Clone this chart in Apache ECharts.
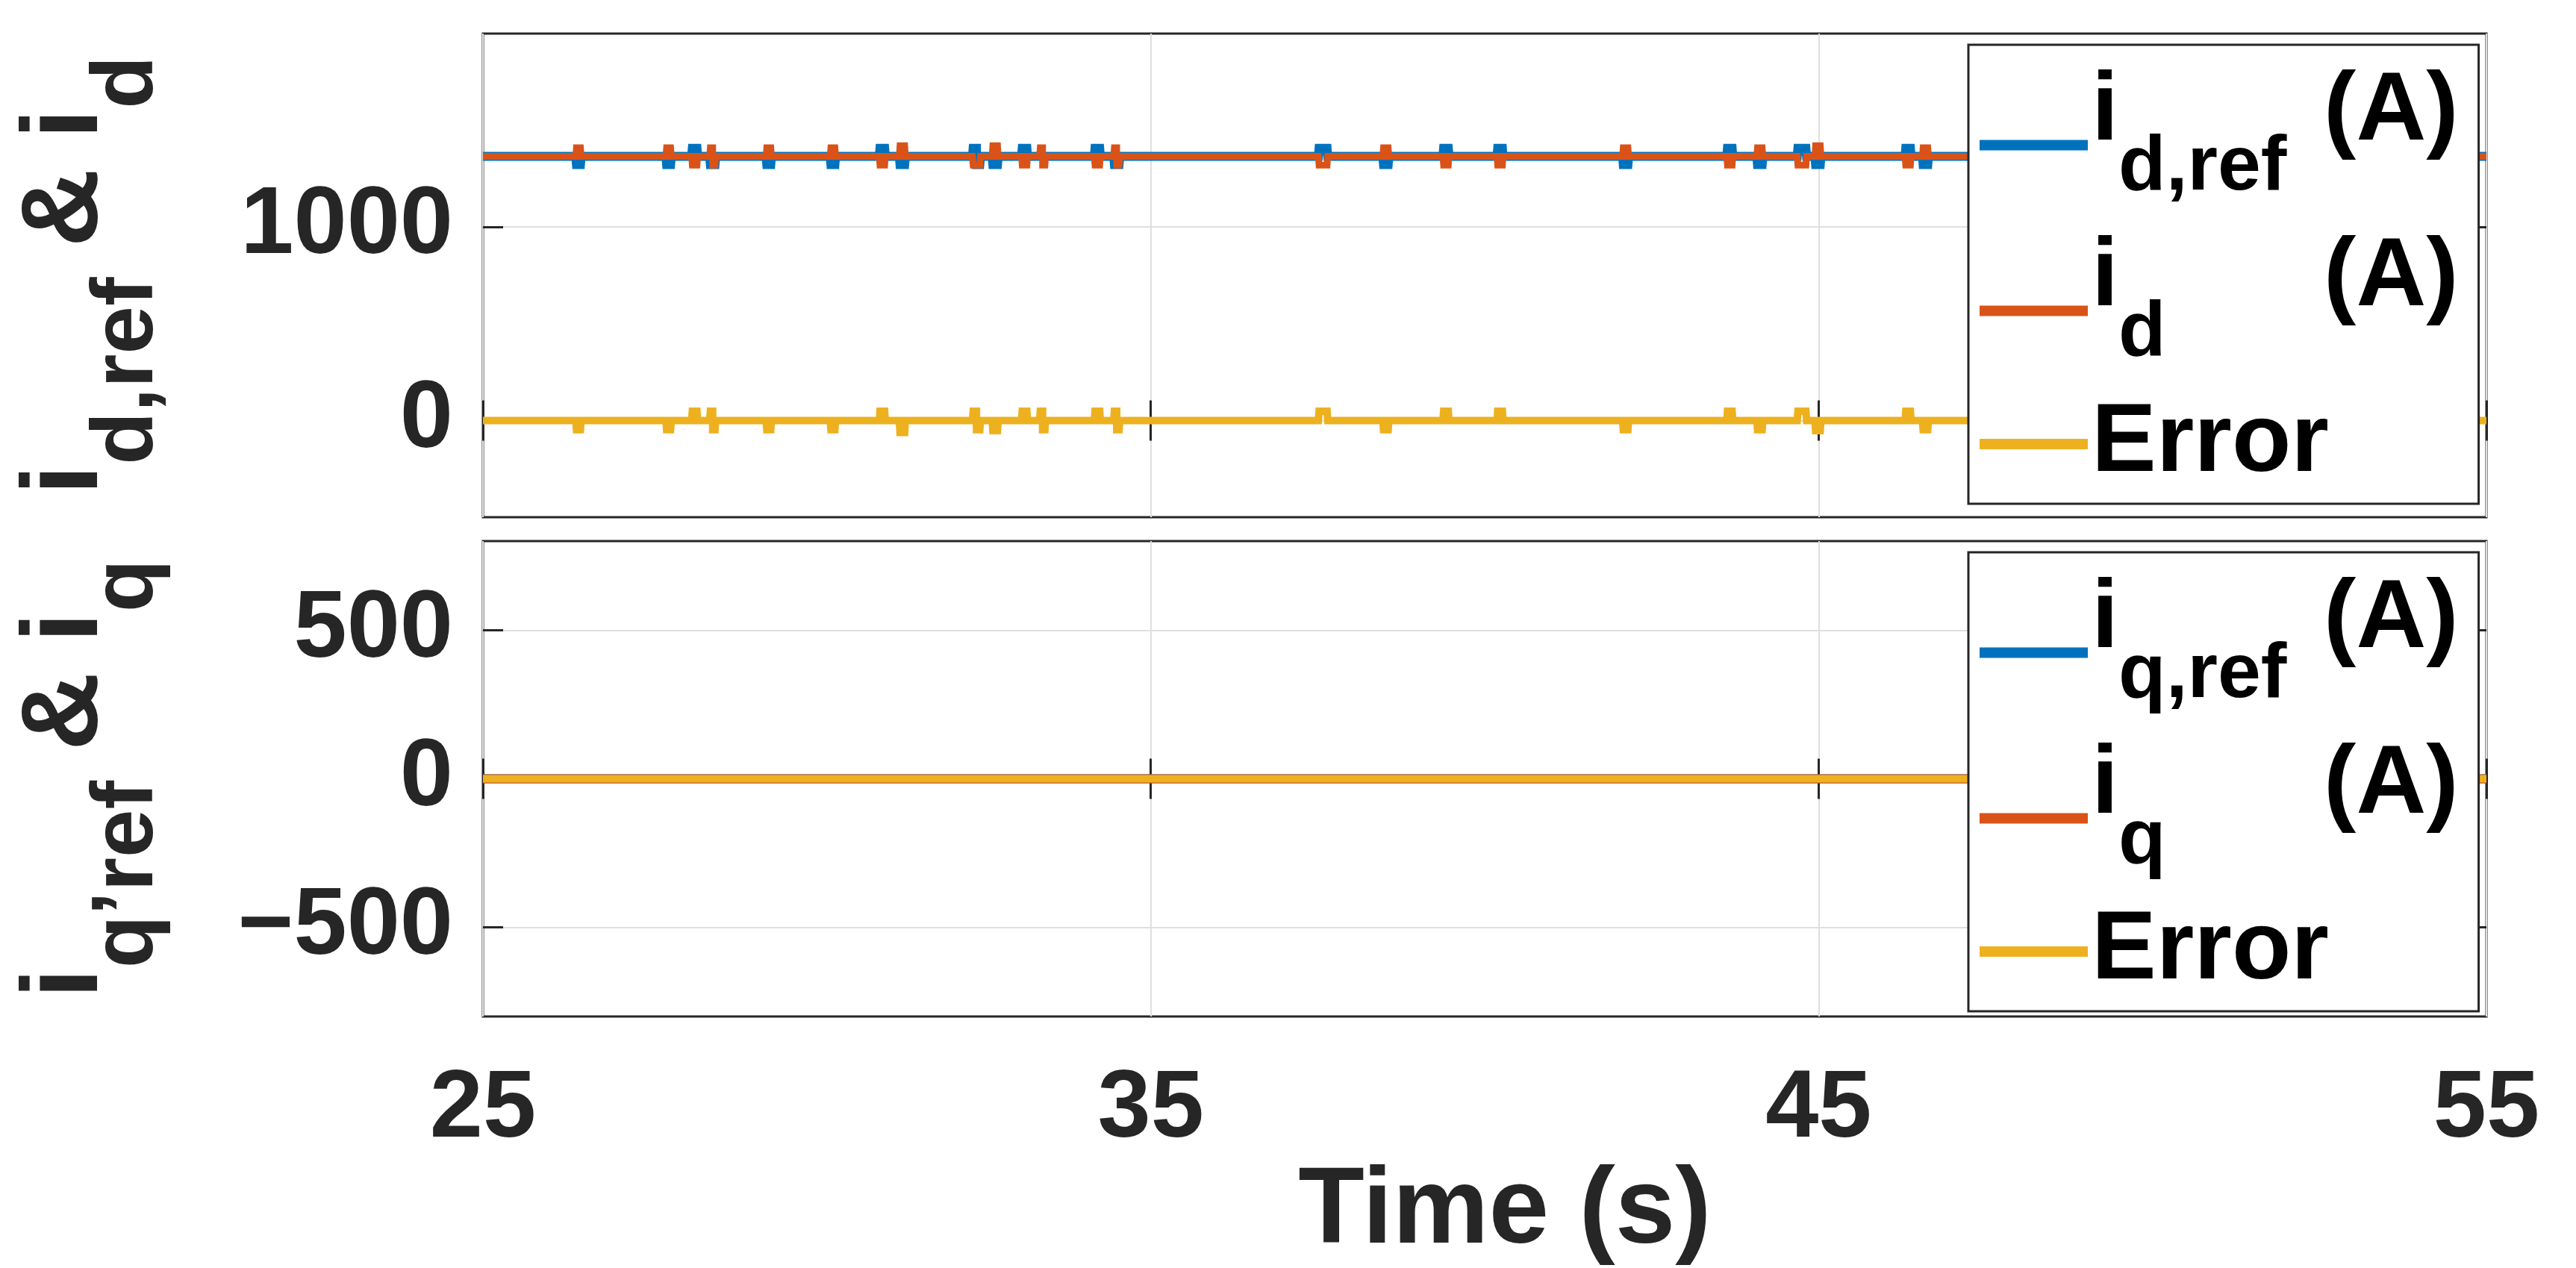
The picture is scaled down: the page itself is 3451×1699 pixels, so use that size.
<!DOCTYPE html>
<html>
<head>
<meta charset="utf-8">
<script src="https://cdn.jsdelivr.net/npm/echarts@6/dist/echarts.min.js"></script>
<style>
html,body{margin:0;padding:0;background:#fff;}
#main{width:3451px;height:1699px;}
</style>
</head>
<body>
<div id="main"></div>
<script>
// time axis (s)
var tRange = [25, 55];

// i_d panel: steady levels and the little bursts
var idLevel = 1365;
var errLevel = 0;
var spikeTimes = [26.43, 27.78, 28.17, 28.44, 29.28, 30.24, 30.98, 31.28, 32.39, 32.67, 33.11, 33.38, 34.20,
                  34.49, 37.58, 38.52, 39.42, 40.23, 42.11, 43.67, 44.12, 44.75, 44.99, 46.34, 46.60];
var spikeWidths = [0.03, 0.03, 0.035, 0.035, 0.03, 0.03, 0.035, 0.035, 0.05, 0.035, 0.035, 0.035, 0.035,
                   0.035, 0.06, 0.035, 0.035, 0.035, 0.035, 0.035, 0.035, 0.06, 0.035, 0.035, 0.035];
var idRefSpikes = [[-42,-42],[-42,-42],[42,42],[-42,-42],[-42,-42],[-42,-42],[42,42],[-42,-42],[42,-42],[-42,-42],[42,42],[0,0],[42,42],
                   [-42,-42],[42,42],[-42,-42],[42,42],[42,42],[-42,-42],[42,42],[-42,-42],[42,42],[-42,-42],[42,42],[-42,-42]];
var idSpikes = [[45,45],[45,45],[-45,-45],[45,-45],[45,45],[45,45],[-45,-45],[55,55],[-45,-45],[55,55],[-45,-45],[45,-45],[-45,-45],
                [45,-45],[-45,-45],[45,45],[-45,-45],[-45,-45],[45,45],[-45,-45],[45,45],[-45,-45],[55,55],[-45,-45],[45,45]];
var errDSpikes = [[-48,-48],[-48,-48],[48,48],[48,-48],[-48,-48],[-48,-48],[48,48],[-62,-62],[48,-48],[-52,-52],[48,48],[48,-48],[48,48],
                  [48,-48],[48,48],[-48,-48],[48,48],[48,48],[-48,-48],[48,48],[-48,-48],[48,48],[-52,-52],[48,48],[-48,-48]];

// i_q panel: all three traces sit on zero
var iqRef = [[25, 0], [55, 0]];
var iq = [[25, 0], [55, 0]];
var errQ = [[25, 0], [55, 0]];

var FONT = 'Liberation Sans, Arial, Helvetica, sans-serif';
var INK = '#262626';
var C_BLUE = '#0072BD', C_RED = '#D95319', C_YEL = '#EDB120';

// level + bursts -> [t, value] list
function trace(level, spikes) {
    var out = [[tRange[0], level]];
    for (var i = 0; i < spikeTimes.length; i++) {
        var t = spikeTimes[i], w = spikeWidths[i], s = spikes[i];
        out.push([t - w - 0.01, level]);
        out.push([t - w, level + s[0]]);
        out.push([t, level + s[0]]);
        out.push([t, level + s[1]]);
        out.push([t + w, level + s[1]]);
        out.push([t + w + 0.01, level]);
    }
    out.push([tRange[1], level]);
    return out;
}

// every token of a row gets the same box height, so the subscript drop
// does not depend on how zrender aligns the tokens
var legendRich = {
    m: {fontFamily: FONT, fontSize: 130, fontWeight: 'bold', color: '#000', lineHeight: 191, padding: [0, 0, 61, 0]},
    s: {fontFamily: FONT, fontSize: 104, fontWeight: 'bold', color: '#000', lineHeight: 191, padding: [87, 0, 0, 0], width: 275},
    e: {fontFamily: FONT, fontSize: 130, fontWeight: 'bold', color: '#000', lineHeight: 130}
};
var legendText = {
    idref: '{m|i}{s|d,ref}{m|(A)}',
    id: '{m|i}{s|d}{m|(A)}',
    errd: '{e|Error}',
    iqref: '{m|i}{s|q,ref}{m|(A)}',
    iq: '{m|i}{s|q}{m|(A)}',
    errq: '{e|Error}'
};
var nameRich = {
    m: {fontFamily: FONT, fontSize: 145, fontWeight: 'bold', color: INK, lineHeight: 212, padding: [0, 0, 67, 0]},
    s: {fontFamily: FONT, fontSize: 116, fontWeight: 'bold', color: INK, lineHeight: 212, padding: [96, 0, 0, 0]}
};

// rows with a subscript: text lifted a bit against the swatch
var subRow = function (n) {
    return {name: n, textStyle: {rich: legendRich, padding: [0, 0, 26, 0]}};
};

var buildLegend = function (names, top) {
    return {
        data: [subRow(names[0]), subRow(names[1]), names[2]],
        orient: 'vertical',
        left: 2637,
        top: top,
        padding: [26, 27, 15, 15],
        itemGap: 31,
        itemWidth: 145,
        itemHeight: 14,
        icon: 'rect',
        selectedMode: false,
        borderColor: INK,
        borderWidth: 3,
        borderRadius: 0,
        backgroundColor: '#fff',
        formatter: function (n) { return legendText[n]; },
        textStyle: {rich: legendRich}
    };
};

var gridLine = {show: true, lineStyle: {color: '#dfdfdf', width: 2}};

var xAxisFor = function (gi, pos, showLabel) {
    var ax = {
        type: 'value', gridIndex: gi, position: pos,
        min: tRange[0], max: tRange[1], interval: 10,
        axisLine: {show: false},
        axisTick: {show: true, inside: true, length: 27, lineStyle: {color: INK, width: 3}},
        axisLabel: {show: false},
        splitLine: pos === 'bottom' ? gridLine : {show: false}
    };
    if (showLabel) {
        ax.axisLabel = {show: true, margin: 62, fontFamily: FONT, fontSize: 128, fontWeight: 'bold', color: INK};
        ax.name = 'Time (s)';
        ax.nameLocation = 'middle';
        ax.nameGap = 140;
        ax.nameTextStyle = {fontFamily: FONT, fontSize: 145, fontWeight: 'bold', color: INK, padding: [0, 0, 0, 54]};
    }
    return ax;
};
var yAxisFor = function (gi, pos, min, max, ticks, name) {
    var ax = {
        type: 'value', gridIndex: gi, position: pos,
        min: min, max: max,
        axisLine: {show: false},
        axisTick: {show: true, inside: true, length: 27, customValues: ticks, lineStyle: {color: INK, width: 3}},
        axisLabel: {show: false, customValues: ticks},
        splitLine: pos === 'left' ? gridLine : {show: false}
    };
    if (pos === 'left') {
        ax.axisLabel = {
            show: true, customValues: ticks, margin: 40,
            fontFamily: FONT, fontSize: 128, fontWeight: 'bold', color: INK,
            formatter: function (v) { return v < 0 ? '\u2212' + Math.abs(v) : String(v); }
        };
        ax.name = name;
        ax.nameLocation = 'middle';
        ax.nameRotate = 90;
        ax.nameGap = 417;
        ax.nameTextStyle = {rich: nameRich};
    }
    return ax;
};

var lineSeries = function (name, xi, yi, color, width, data) {
    return {
        name: name, type: 'line', xAxisIndex: xi, yAxisIndex: yi,
        data: data, symbol: 'none', animation: false,
        lineStyle: {color: color, width: width, cap: 'butt', join: 'miter'},
        itemStyle: {color: color}
    };
};

var option = {
    backgroundColor: '#fff',
    animation: false,
    grid: [
        {left: 647, top: 45, width: 2684, height: 648, show: true, borderColor: INK, borderWidth: 3, backgroundColor: '#fff'},
        {left: 647, top: 725, width: 2684, height: 650, show: true, borderColor: INK, borderWidth: 3, backgroundColor: '#fff'}
    ],
    xAxis: [
        xAxisFor(0, 'bottom', false),
        xAxisFor(0, 'top', false),
        xAxisFor(1, 'bottom', true),
        xAxisFor(1, 'top', false)
    ],
    yAxis: [
        yAxisFor(0, 'left', -500, 2000, [0, 1000], '{m|i}{s|d,ref}{m| & i}{s|d}'),
        yAxisFor(0, 'right', -500, 2000, [0, 1000]),
        yAxisFor(1, 'left', -800, 800, [-500, 0, 500], '{m|i}{s|q\u2019ref}{m| & i}{s|q}'),
        yAxisFor(1, 'right', -800, 800, [-500, 0, 500])
    ],
    legend: [
        buildLegend(['idref', 'id', 'errd'], 60),
        buildLegend(['iqref', 'iq', 'errq'], 740)
    ],
    series: [
        lineSeries('idref', 0, 0, C_BLUE, 12, trace(idLevel, idRefSpikes)),
        lineSeries('id', 0, 0, C_RED, 9, trace(idLevel, idSpikes)),
        lineSeries('errd', 0, 0, C_YEL, 10, trace(errLevel, errDSpikes)),
        lineSeries('iqref', 2, 2, C_BLUE, 12, iqRef),
        lineSeries('iq', 2, 2, C_RED, 12, iq),
        lineSeries('errq', 2, 2, C_YEL, 10, errQ)
    ]
};

var chart = echarts.init(document.getElementById('main'), null, {renderer: 'canvas'});
chart.setOption(option);
</script>
</body>
</html>
